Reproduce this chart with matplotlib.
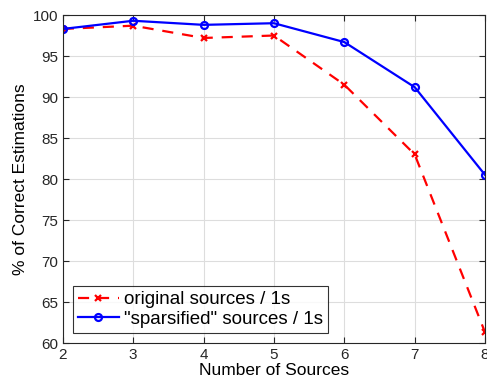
import matplotlib
matplotlib.use("Agg")
import matplotlib.pyplot as plt

plt.rcParams['font.family'] = ['Liberation Sans', 'DejaVu Sans']

# Data
n_sources = [2, 3, 4, 5, 6, 7, 8]
original = [98.3, 98.7, 97.2, 97.5, 91.5, 83.0, 61.3]
sparsified = [98.3, 99.3, 98.8, 99.0, 96.7, 91.2, 80.5]

fig = plt.figure(figsize=(4.87, 3.85), dpi=100)
ax = fig.add_axes([0.129, 0.109, 0.867, 0.852])

ax.plot(n_sources, original, color='red', linestyle=(0, (5, 4)), linewidth=1.6,
        marker='x', markersize=5, markeredgewidth=1.6, label='original sources / 1s')
ax.plot(n_sources, sparsified, color='blue', linestyle='-', linewidth=1.6,
        marker='o', markersize=5, markerfacecolor='none', markeredgewidth=1.6,
        label='"sparsified" sources / 1s')

ax.set_xlim(2, 8)
ax.set_ylim(60, 100)
ax.set_xticks(n_sources)
ax.set_yticks(range(60, 101, 5))
ax.grid(True, color='#dddddd', linewidth=0.8)
ax.set_axisbelow(True)
ax.tick_params(direction='in', top=True, right=True, labelsize=11, length=4,
               colors='#262626')
for sp in ax.spines.values():
    sp.set_color('#262626')
    sp.set_linewidth(0.8)

ax.set_xlabel('Number of Sources', fontsize=12.5, labelpad=1)
ax.set_ylabel('% of Correct Estimations', fontsize=12.5, labelpad=3)

leg = ax.legend(loc='lower left', bbox_to_anchor=(0.015, 0.02), fontsize=13.5,
                frameon=True, fancybox=False, handlelength=2.2, handletextpad=0.3,
                borderpad=0.25, labelspacing=0.15, borderaxespad=0.2)
leg.get_frame().set_edgecolor('black')
leg.get_frame().set_linewidth(0.8)

fig.savefig('out.png', dpi=100)
